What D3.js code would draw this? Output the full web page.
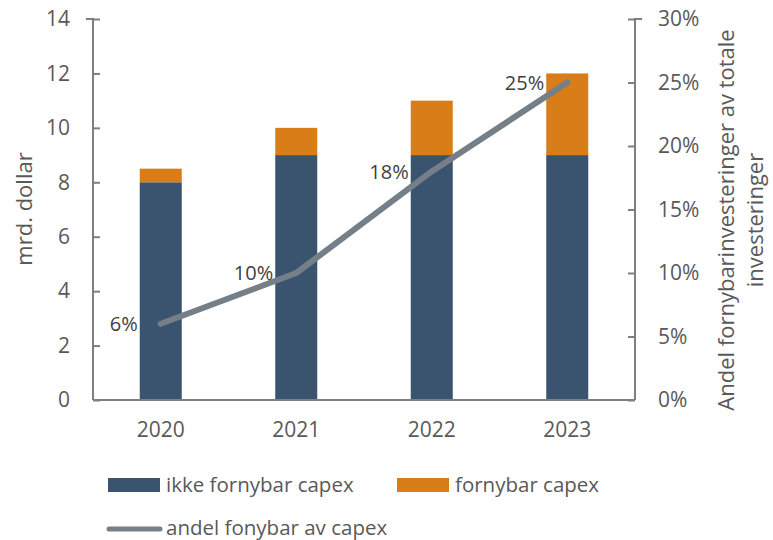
<!DOCTYPE html>
<html>
<head>
<meta charset="utf-8">
<script src="https://cdn.jsdelivr.net/npm/d3@7"></script>
<style>
  html, body { margin: 0; padding: 0; background: #fff; }
  svg { display: block; font-family: "Open Sans", sans-serif; }
</style>
</head>
<body>
<svg id="chart" width="773" height="540"></svg>
<script>
// Capex by year (billion dollars) and renewable share of total
const years = ["2020", "2021", "2022", "2023"];
const nonRenewable = [8, 9, 9, 9];
const renewable = [0.5, 1, 2, 3];
const renewableShare = [0.06, 0.10, 0.18, 0.25];
const shareLabels = ["6%", "10%", "18%", "25%"];
const leftTicks = [0, 2, 4, 6, 8, 10, 12, 14];
const rightTicks = [0, 0.05, 0.10, 0.15, 0.20, 0.25, 0.30];

const seriesNames = ["ikke fornybar capex", "fornybar capex", "andel fonybar av capex"];
const colors = { dark: "#3a5470", orange: "#d87d17", line: "#757f87" };
const axisColor = "#7f7f7f";
const textColor = "#595959";

const svg = d3.select("#chart");
const plot = { left: 93, right: 635, top: 19, bottom: 400 };

const x = d3.scaleBand().domain(years).range([plot.left, plot.right]).paddingInner(0).paddingOuter(0);
const barW = x.bandwidth() * 0.31;
const yL = d3.scaleLinear().domain([0, 14]).range([plot.bottom, plot.top]);
const yR = d3.scaleLinear().domain([0, 0.30]).range([plot.bottom, plot.top]);

const rows = years.map((yr, i) => ({ yr, a: nonRenewable[i], b: renewable[i], s: renewableShare[i], lab: shareLabels[i] }));

// stacked bars
const stack = d3.stack().keys(["a", "b"])(rows);
const fills = [colors.dark, colors.orange];
svg.append("g").selectAll("g").data(stack).join("g")
  .attr("fill", (d, i) => fills[i])
  .selectAll("rect").data(d => d).join("rect")
  .attr("x", d => x(d.data.yr) + x.bandwidth() / 2 - barW / 2)
  .attr("width", barW)
  .attr("y", d => yL(d[1]))
  .attr("height", d => yL(d[0]) - yL(d[1]));

// axes
const axL = svg.append("g").attr("transform", `translate(${plot.left},0)`)
  .call(d3.axisLeft(yL).tickValues(leftTicks).tickSize(-7).tickPadding(23).tickFormat(d3.format("d")));
const axR = svg.append("g").attr("transform", `translate(${plot.right},0)`)
  .call(d3.axisRight(yR).tickValues(rightTicks).tickSize(-7).tickPadding(23).tickFormat(d3.format(".0%")));
const axB = svg.append("g").attr("transform", `translate(0,${plot.bottom})`)
  .call(d3.axisBottom(x).tickSize(0).tickPadding(22));

[axL, axR, axB].forEach(g => {
  g.select(".domain").attr("stroke", axisColor).attr("stroke-width", 2);
  g.selectAll(".tick line").attr("stroke", axisColor).attr("stroke-width", 2);
  g.selectAll(".tick text").attr("fill", textColor).attr("font-size", 21)
    .attr("font-family", "'Open Sans', sans-serif");
});
// flat axis lines with short end caps at the top
axB.select(".domain").attr("d", `M${plot.left},0H${plot.right}`);
axL.select(".domain").attr("d", `M-7,${plot.top}H0V${plot.bottom}`);
axR.select(".domain").attr("d", `M7,${plot.top}H0V${plot.bottom}`);

// share line
const line = d3.line().x(d => x(d.yr) + x.bandwidth() / 2).y(d => yR(d.s));
svg.append("path").datum(rows)
  .attr("d", line)
  .attr("fill", "none")
  .attr("stroke", colors.line)
  .attr("stroke-width", 6)
  .attr("stroke-linecap", "round")
  .attr("stroke-linejoin", "round");

// value labels
svg.append("g").selectAll("text").data(rows).join("text")
  .attr("x", d => x(d.yr) + x.bandwidth() / 2 - 23)
  .attr("y", d => yR(d.s))
  .attr("dy", "0.36em")
  .attr("text-anchor", "end")
  .attr("fill", "#404040")
  .attr("font-size", 20)
  .text(d => d.lab);

// axis titles
svg.append("text")
  .attr("transform", "translate(32,209) rotate(-90)")
  .attr("text-anchor", "middle")
  .attr("fill", textColor)
  .attr("font-size", 22)
  .text("mrd. dollar");

const rt = svg.append("text")
  .attr("transform", "translate(734,220) rotate(-90)")
  .attr("text-anchor", "middle")
  .attr("fill", textColor)
  .attr("font-size", 22);
rt.append("tspan").attr("x", 0).attr("dy", 0).text("Andel fornybarinvesteringer av totale");
rt.append("tspan").attr("x", 0).attr("dy", 29).text("investeringer");

// legend
const leg = svg.append("g").attr("fill", textColor).attr("font-size", 20.5);
leg.append("rect").attr("x", 108).attr("y", 478).attr("width", 52).attr("height", 14).attr("fill", colors.dark);
leg.append("text").attr("x", 166).attr("y", 492).text(seriesNames[0]);
leg.append("rect").attr("x", 397).attr("y", 478).attr("width", 52).attr("height", 14).attr("fill", colors.orange);
leg.append("text").attr("x", 455).attr("y", 492).text(seriesNames[1]);
leg.append("line").attr("x1", 109).attr("x2", 160).attr("y1", 529).attr("y2", 529)
  .attr("stroke", colors.line).attr("stroke-width", 5).attr("stroke-linecap", "round");
leg.append("text").attr("x", 166).attr("y", 535).text(seriesNames[2]);
</script>
</body>
</html>
